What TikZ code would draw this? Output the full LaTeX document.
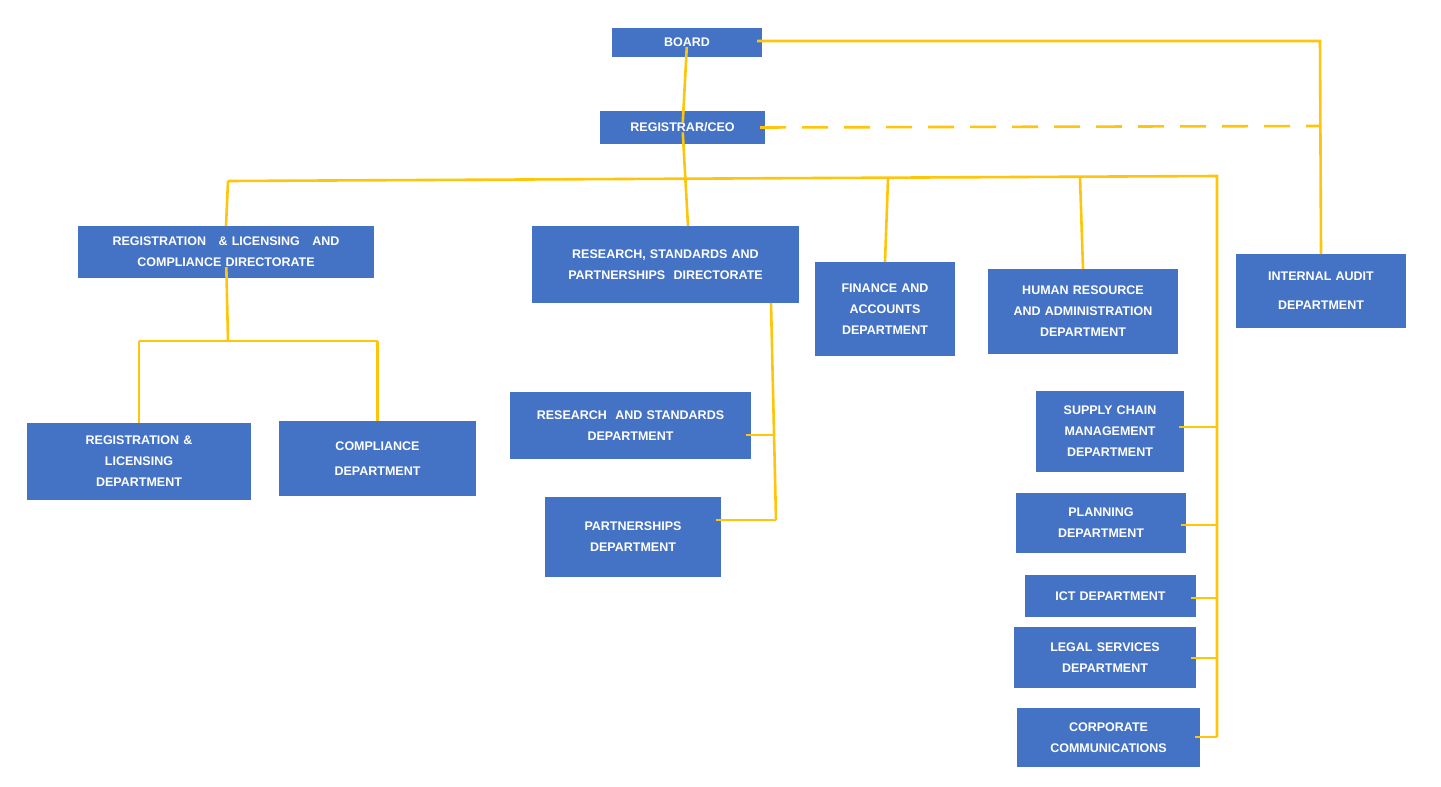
\documentclass[tikz,border=0pt]{standalone}
\usepackage{fontspec}
\setmainfont{Liberation Sans}
\begin{document}
\begin{tikzpicture}[x=1pt,y=-1pt,
 bx/.style={fill=boxblue,draw=none,text=white,font=\fontsize{12.5}{21}\selectfont\bfseries,align=center,inner sep=0pt},
 ln/.style={draw=lineyel,line width=2.6pt}]
\definecolor{boxblue}{HTML}{4472C4}
\definecolor{lineyel}{HTML}{FFC50A}
\useasboundingbox (0,0) rectangle (1441,787);
\newcommand{\bx}[6]{\fill[boxblue] (#2,#3) rectangle (#4,#5); \node[bx,text width={#4-#2-10}] (#1) at ({(#2+#4)/2},{(#3+#5)/2}) {#6}; \coordinate (#1-n) at ({(#2+#4)/2},#3);}
\bx{board}{612}{28}{762}{57}{BOARD}
\bx{ceo}{600}{111}{765}{144}{REGISTRAR/CEO}
\bx{rlc}{78}{226}{374}{278}{REGISTRATION\quad\&\ LICENSING\quad AND\\COMPLIANCE DIRECTORATE}
\bx{rsp}{532}{226}{799}{303}{RESEARCH, STANDARDS AND\\PARTNERSHIPS\ \ DIRECTORATE\\[14pt]}
\bx{fin}{815}{262}{955}{356}{FINANCE AND\\ACCOUNTS\\DEPARTMENT}
\bx{hr}{988}{269}{1178}{354}{HUMAN RESOURCE\\AND ADMINISTRATION\\DEPARTMENT}
\bx{ia}{1236}{254}{1406}{328}{INTERNAL AUDIT\\[8pt]DEPARTMENT}
\bx{rld}{27}{423}{251}{500}{REGISTRATION \&\\LICENSING\\DEPARTMENT}
\bx{comp}{279}{421}{476}{496}{COMPLIANCE\\[4pt]DEPARTMENT}
\bx{rsd}{510}{392}{751}{459}{RESEARCH\ \ AND STANDARDS\\DEPARTMENT}
\bx{part}{545}{497}{721}{577}{PARTNERSHIPS\\DEPARTMENT}
\bx{sc}{1036}{391}{1184}{472}{SUPPLY CHAIN\\MANAGEMENT\\DEPARTMENT}
\bx{plan}{1016}{493}{1186}{553}{PLANNING\\DEPARTMENT}
\bx{ict}{1025}{575}{1196}{617}{ICT DEPARTMENT}
\bx{legal}{1014}{627}{1196}{688}{LEGAL SERVICES\\DEPARTMENT}
\bx{cc}{1017}{708}{1200}{767}{CORPORATE\\COMMUNICATIONS}
\coordinate (tA) at (1320,41);
\coordinate (tB) at (1320,126);
\coordinate (hl) at (228,181);
\coordinate (hr) at (1217,176);
\coordinate (hbot) at (1217,737);
\draw[ln] (board.east|-0,41) -- (tA) -- (ia-n);
\draw[ln,dash pattern=on 26pt off 16pt] (ceo.east) -- (tB);
\draw[ln] (board) -- (ceo);
\draw[ln] (ceo) -- (688,226);
\draw[ln] (hl) -- (hr) -- (hbot);
\draw[ln] (hl) -- (rlc-n);
\draw[ln] (888,179) -- (fin-n);
\draw[ln] (1080,177.5) -- (hr-n);
\foreach \n/\y in {sc/427,plan/525,ict/598,legal/658,cc/737}{\draw[ln] (\n.east|-0,\y) -- (1217,\y);}
\coordinate (j1) at (228,341);
\draw[ln] (rlc) -- (j1);
\draw[ln] (rld-n|-j1) -- (comp-n|-j1);
\draw[ln] (rld-n|-j1) -- (rld-n);
\draw[ln] (comp-n|-j1) -- (comp-n);
\draw[ln] (771,303) -- (776,520);
\draw[ln] (rsd.east|-0,435) -- (775,435);
\draw[ln] (part.east|-0,520) -- (776,520);
\end{tikzpicture}
\end{document}
